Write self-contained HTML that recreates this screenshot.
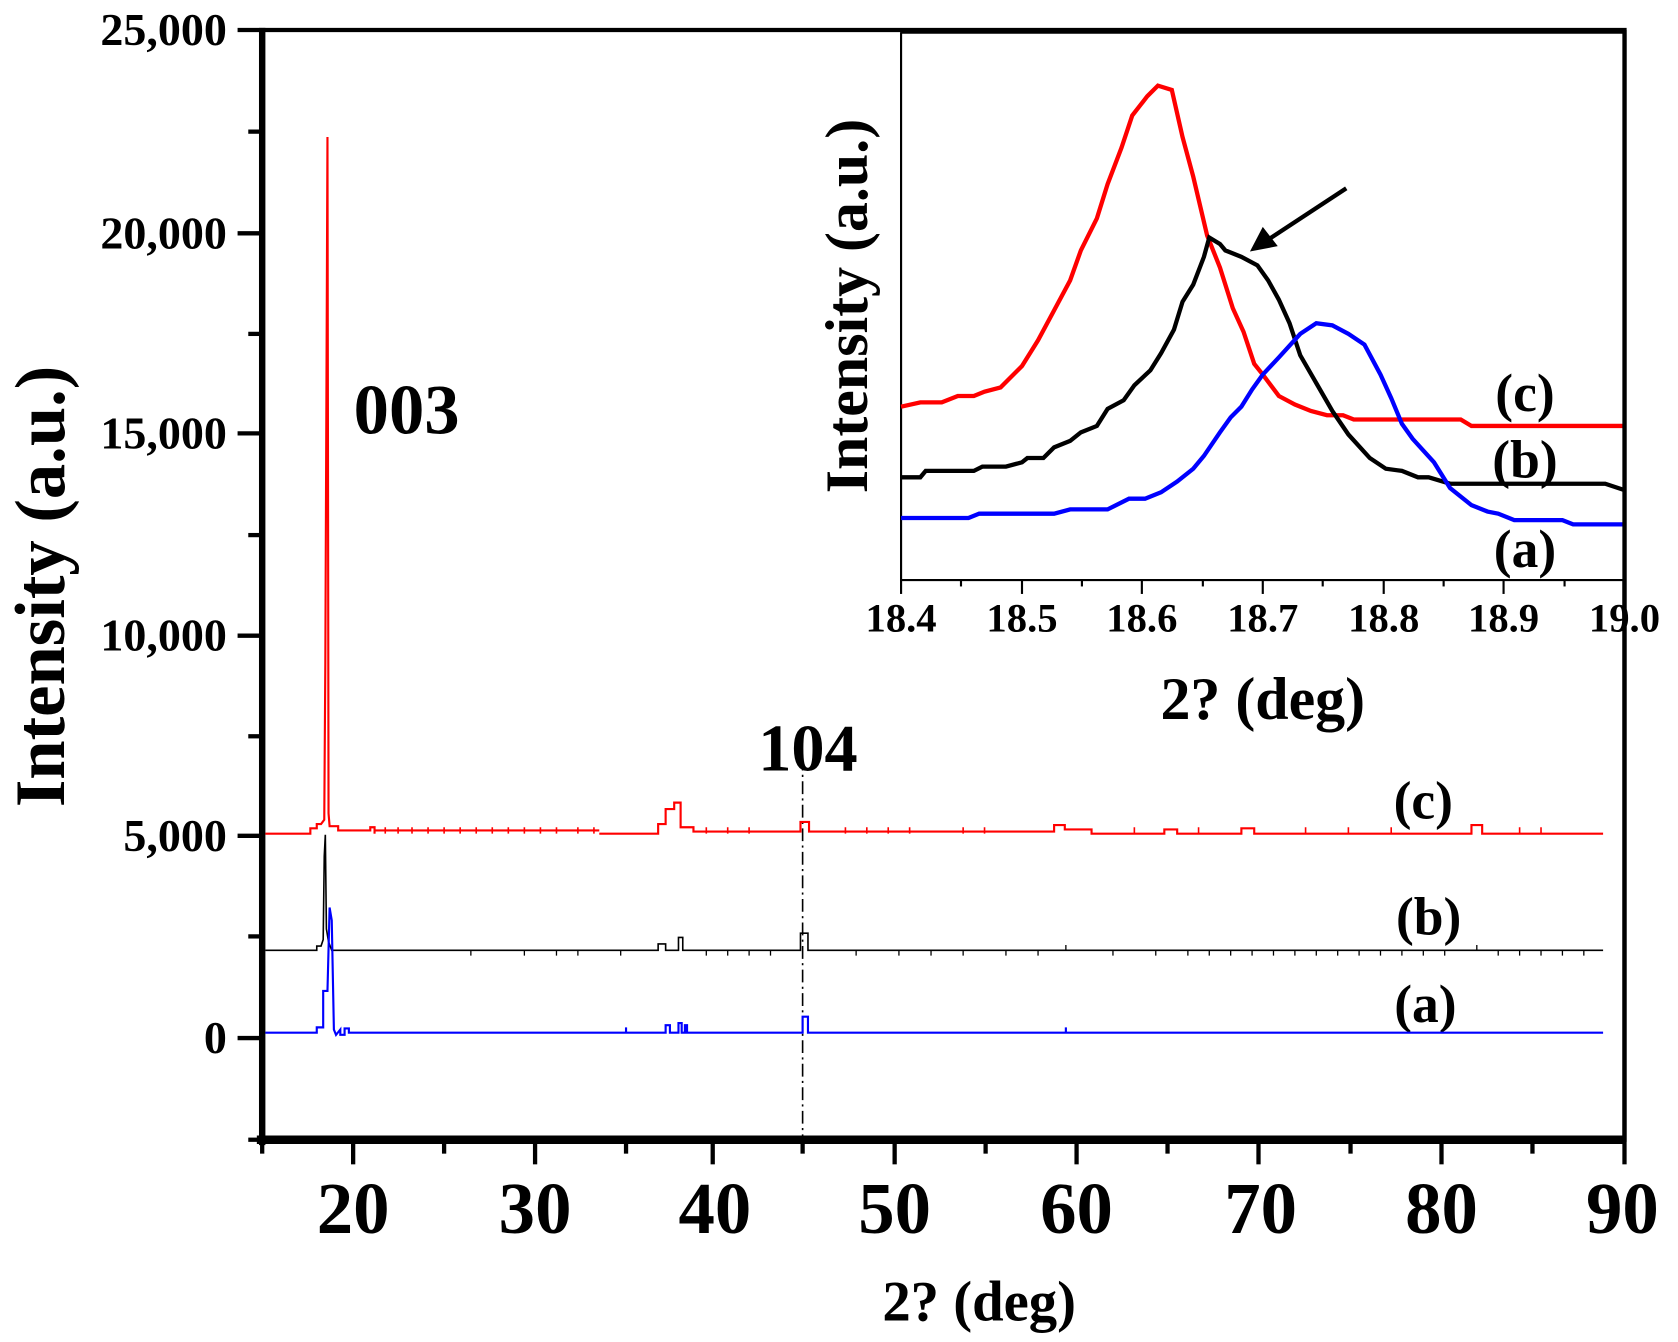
<!DOCTYPE html>
<html><head><style>html,body{margin:0;padding:0;background:#fff}svg{display:block}</style></head>
<body>
<svg width="1678" height="1342" viewBox="0 0 1568 1254" preserveAspectRatio="none" xmlns="http://www.w3.org/2000/svg" font-family="Liberation Serif, serif" font-weight="bold">
<rect width="1568" height="1254" fill="#fff"/>
<!-- main axes -->
<path d="M245 28 V1065 H1518 V28 H245" fill="none" stroke="#000" stroke-width="4"/>
<line x1="240" y1="1065" x2="1518" y2="1065" stroke="#000" stroke-width="8"/>
<line x1="245" y1="26" x2="245" y2="1070" stroke="#000" stroke-width="6"/>
<g stroke="#000" stroke-width="4">
<line x1="222" y1="28" x2="245" y2="28"/><line x1="222" y1="218" x2="245" y2="218"/><line x1="222" y1="405" x2="245" y2="405"/><line x1="222" y1="594" x2="245" y2="594"/><line x1="222" y1="781" x2="245" y2="781"/><line x1="222" y1="970" x2="245" y2="970"/>
<line x1="232" y1="123" x2="245" y2="123"/><line x1="232" y1="312" x2="245" y2="312"/><line x1="232" y1="500" x2="245" y2="500"/><line x1="232" y1="688" x2="245" y2="688"/><line x1="232" y1="875" x2="245" y2="875"/><line x1="232" y1="1065" x2="245" y2="1065"/>
<line x1="330" y1="1065" x2="330" y2="1088"/><line x1="500" y1="1065" x2="500" y2="1088"/><line x1="666" y1="1065" x2="666" y2="1088"/><line x1="836" y1="1065" x2="836" y2="1088"/><line x1="1006" y1="1065" x2="1006" y2="1088"/><line x1="1176" y1="1065" x2="1176" y2="1088"/><line x1="1347" y1="1065" x2="1347" y2="1088"/><line x1="1518" y1="1065" x2="1518" y2="1088"/>
<line x1="245" y1="1065" x2="245" y2="1078"/><line x1="415" y1="1065" x2="415" y2="1078"/><line x1="585" y1="1065" x2="585" y2="1078"/><line x1="750" y1="1065" x2="750" y2="1078"/><line x1="921" y1="1065" x2="921" y2="1078"/><line x1="1091" y1="1065" x2="1091" y2="1078"/><line x1="1262" y1="1065" x2="1262" y2="1078"/><line x1="1432" y1="1065" x2="1432" y2="1078"/>
</g>
<g font-size="43" text-anchor="end">
<text x="212" y="42">25,000</text><text x="212" y="232">20,000</text><text x="212" y="419">15,000</text><text x="212" y="608">10,000</text><text x="212" y="795">5,000</text><text x="212" y="984">0</text>
</g>
<g font-size="68" text-anchor="middle">
<text x="330" y="1152">20</text><text x="500" y="1152">30</text><text x="668" y="1152">40</text><text x="836" y="1152">50</text><text x="1006" y="1152">60</text><text x="1178" y="1152">70</text><text x="1347" y="1152">80</text><text x="1516" y="1152">90</text>
</g>
<text x="915" y="1234" font-size="53" text-anchor="middle">2? (deg)</text>
<text transform="translate(60,548) rotate(-90)" font-size="66" text-anchor="middle">Intensity (a.u.)</text>
<text x="380" y="405" font-size="66" text-anchor="middle">003</text>
<text x="755" y="720" font-size="62" text-anchor="middle">104</text>
<line x1="750" y1="708" x2="750" y2="1065" stroke="#000" stroke-width="1.5" stroke-dasharray="12,4,2,4"/>
<g font-size="50" text-anchor="middle">
<text x="1330" y="765">(c)</text><text x="1335" y="873">(b)</text><text x="1332" y="955">(a)</text>
</g>
<!-- spectra -->
<path d="M248 779 H290 V774 H296 V770 H300 L303 766 L304 620 L306 128 L307 760 L308 772 H316 V776 H346 V773 H350 V779 M350 776 H560 M560 779 H615 V770 H622 V756 H630 V750 H636 V773 H648 V777 H748 V768 H756 V777 H985 V771 H995 V775 H1020 V779 H1088 V775 H1100 V779 H1160 V774 H1172 V779 H1375 V771 H1385 V779 H1498" fill="none" stroke="#f00" stroke-width="2"/>
<g stroke="#f00" stroke-width="1.5"><path d="M350 773 V779 M360 773 V779 M372 773 V779 M385 773 V779 M400 773 V779 M415 773 V779 M430 773 V779 M445 773 V779 M460 773 V779 M475 773 V779 M490 773 V779 M505 773 V779 M520 773 V779 M540 773 V779 M555 773 V779 M660 773 V779 M680 773 V779 M700 773 V779 M790 773 V779 M810 773 V779 M830 773 V779 M850 773 V779 M900 773 V779 M920 773 V779 M1060 773 V779 M1120 773 V779 M1220 773 V779 M1260 773 V779 M1300 773 V779 M1420 773 V779 M1440 773 V779"/></g>
<path d="M248 888 H296 V884 H300 L302 878 L303 800 L304 780 L305 868 L307 880 L310 888 H615 V882 H622 V888 H634 V876 H638 V888 H748 V872 H755 V888 H1498" fill="none" stroke="#000" stroke-width="1.5"/>
<g stroke="#000" stroke-width="1.2"><path d="M440 888 V893 M490 888 V893 M520 888 V893 M540 888 V893 M580 888 V893 M660 888 V893 M680 888 V893 M700 888 V893 M720 888 V893 M800 888 V893 M840 888 V893 M870 888 V893 M900 888 V893 M940 888 V893 M970 888 V893 M996 888 V883 M1040 888 V893 M1080 888 V893 M1110 888 V893 M1130 888 V893 M1150 888 V893 M1170 888 V893 M1190 888 V893 M1210 888 V893 M1230 888 V893 M1250 888 V893 M1270 888 V893 M1290 888 V893 M1310 888 V893 M1330 888 V893 M1350 888 V893 M1380 888 V883 M1400 888 V893 M1420 888 V893 M1440 888 V893 M1460 888 V893 M1480 888 V893"/></g>
<path d="M248 965 H296 V960 H302 V926 H306 L308 848 L310 860 L312 962 L314 967 L318 962 V967 H322 V961 H326 V965 H585 V960 M585 965 H622 V958 H626 V965 H634 V956 H637 V965 H640 V958 H642 V965 H750 V950 H755 V965 H996 V960 M996 965 H1498" fill="none" stroke="#00f" stroke-width="2"/>
<!-- inset -->
<rect x="842" y="30" width="676" height="512" fill="#fff" stroke="none"/>
<path d="M842 30 V542 H1518" fill="none" stroke="#000" stroke-width="2"/>
<line x1="842" y1="30" x2="1518" y2="30" stroke="#000" stroke-width="3"/>
<g stroke="#000" stroke-width="2">
<line x1="842" y1="542" x2="842" y2="555"/><line x1="955" y1="542" x2="955" y2="555"/><line x1="1067" y1="542" x2="1067" y2="555"/><line x1="1180" y1="542" x2="1180" y2="555"/><line x1="1293" y1="542" x2="1293" y2="555"/><line x1="1405" y1="542" x2="1405" y2="555"/><line x1="1518" y1="542" x2="1518" y2="555"/>
<line x1="898" y1="542" x2="898" y2="548"/><line x1="1011" y1="542" x2="1011" y2="548"/><line x1="1124" y1="542" x2="1124" y2="548"/><line x1="1236" y1="542" x2="1236" y2="548"/><line x1="1349" y1="542" x2="1349" y2="548"/><line x1="1462" y1="542" x2="1462" y2="548"/>
</g>
<g font-size="38" text-anchor="middle">
<text x="842" y="590">18.4</text><text x="955" y="590">18.5</text><text x="1067" y="590">18.6</text><text x="1180" y="590">18.7</text><text x="1293" y="590">18.8</text><text x="1405" y="590">18.9</text><text x="1518" y="590">19.0</text>
</g>
<text x="1180" y="672" font-size="56" text-anchor="middle">2? (deg)</text>
<text transform="translate(810,286) rotate(-90)" font-size="56" text-anchor="middle">Intensity (a.u.)</text>
<g font-size="50" text-anchor="middle">
<text x="1425" y="384">(c)</text><text x="1425" y="446">(b)</text><text x="1425" y="530">(a)</text>
</g>
<polyline fill="none" stroke="#f00" stroke-width="4" points="842,380 860,376 880,376 895,370 910,370 920,366 935,362 955,342 970,318 985,290 1000,262 1010,234 1025,204 1035,172 1048,138 1058,108 1072,90 1082,80 1095,84 1105,128 1115,165 1128,220 1140,250 1152,288 1162,310 1172,340 1180,350 1195,370 1210,378 1225,384 1240,388 1255,388 1265,392 1280,392 1365,392 1375,398 1518,398"/>
<polyline fill="none" stroke="#000" stroke-width="4" points="842,446 860,446 865,440 910,440 918,436 940,436 955,432 960,428 975,428 985,418 1000,412 1010,404 1025,398 1035,382 1050,374 1060,360 1075,346 1085,330 1097,308 1105,282 1115,266 1125,240 1130,222 1140,228 1145,234 1160,240 1175,248 1185,262 1195,280 1205,302 1215,332 1230,358 1245,384 1260,406 1280,428 1295,438 1310,440 1325,446 1335,446 1355,452 1500,452 1518,458"/>
<polyline fill="none" stroke="#00f" stroke-width="4" points="842,484 905,484 915,480 985,480 1000,476 1035,476 1055,466 1070,466 1085,460 1100,450 1115,438 1125,426 1140,404 1150,390 1160,380 1170,364 1180,350 1195,334 1215,312 1230,302 1245,304 1260,312 1275,322 1290,350 1300,372 1310,396 1320,410 1340,432 1355,456 1375,472 1390,478 1400,480 1415,486 1460,486 1470,490 1518,490"/>
<line x1="1258" y1="176" x2="1185" y2="224" stroke="#000" stroke-width="4"/>
<polygon points="1168,235 1180,212 1194,230" fill="#000"/>
<line x1="1518" y1="28" x2="1518" y2="1065" stroke="#000" stroke-width="4"/>
</svg>
</body></html>
